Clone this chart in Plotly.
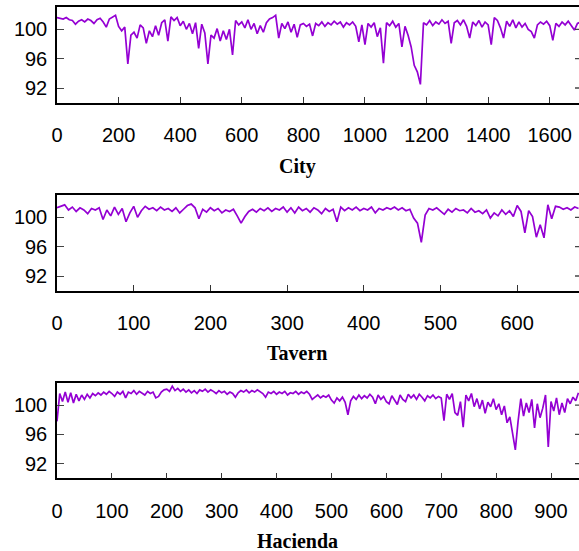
import plotly.graph_objects as go
from plotly.subplots import make_subplots

# ---------------- data ----------------
titles = ["City", "Tavern", "Hacienda"]
y_ticks = [92, 96, 100]

city_step = 10
city_values = [
    101.6, 101.5, 101.4, 101.6, 101.3, 101.2, 100.7, 101.1, 101.3, 101.0,
    101.4, 101.2, 100.8, 101.3, 101.5, 101.0, 100.3, 101.4, 101.7, 101.9,
    100.4, 99.8, 100.3, 95.3, 99.2, 99.6, 98.8, 100.6, 100.2, 98.1,
    99.8, 99.0, 100.5, 99.2, 100.9, 101.3, 98.4, 101.7, 101.2, 101.6,
    100.5, 101.1, 100.0, 100.8, 99.4, 100.9, 97.4, 100.7, 99.5, 95.3,
    99.2, 98.8, 100.1, 98.4, 99.8, 98.6, 100.0, 96.5, 101.2, 100.6,
    101.0, 100.2, 101.3, 100.0, 100.8, 99.4, 100.5, 99.6, 100.9, 101.4,
    101.6, 101.9, 98.8, 100.8, 100.1, 101.0, 99.6, 100.7, 98.9, 100.6,
    100.8, 100.4, 100.7, 99.1, 100.8, 100.5, 101.0, 100.4, 100.9, 100.6,
    101.1, 100.7, 101.0, 100.3, 100.9, 100.6, 101.0, 100.4, 98.3, 100.6,
    97.9, 100.8, 100.3, 100.9, 99.0, 100.2, 95.4, 100.9, 100.5, 101.1,
    100.3, 100.8, 97.6, 100.4, 99.2, 97.6, 95.1, 94.2, 92.5, 100.9,
    100.6, 101.2, 100.5, 101.0, 100.7, 101.3, 100.8, 101.1, 98.1, 100.9,
    101.2, 100.6, 101.3, 100.4, 98.8, 101.0, 100.5, 101.2, 100.3, 101.0,
    100.6, 97.9, 101.6, 101.2, 100.2, 98.8, 101.1, 100.4, 101.3, 100.2,
    101.0, 100.3, 100.8, 100.0, 99.7, 98.8, 100.6, 101.0, 100.7, 101.1,
    100.5, 98.5, 100.8, 100.4, 101.0, 100.6, 101.1, 100.5, 99.9, 100.8,
    101.0,
]

tavern_step = 5
tavern_values = [
    101.3, 101.5, 101.7, 101.0, 101.4, 100.8, 101.3, 101.0, 100.5, 101.2,
    101.0, 101.3, 99.7, 101.0, 100.2, 101.4, 100.4, 101.2, 99.4, 100.6,
    101.5, 100.0, 100.9, 101.5, 101.1, 101.3, 100.9, 101.4, 101.0, 101.2,
    100.8, 101.3, 100.6, 101.1, 101.6, 101.8, 101.3, 99.8, 101.1, 100.7,
    101.3, 100.9, 101.2, 100.6, 101.0, 100.8, 101.1, 100.2, 99.2, 100.1,
    100.8, 101.1, 100.7, 101.2, 100.9, 101.3, 100.8, 101.2, 101.0, 101.4,
    100.7, 101.3, 100.6, 101.4, 100.9, 101.2, 100.7, 101.3, 101.0, 100.5,
    101.2, 100.8, 101.1, 99.4, 101.4, 100.9, 101.3, 101.0, 101.4, 100.9,
    101.2, 101.0, 101.4, 100.6, 101.2, 101.0, 101.3, 101.1, 101.4, 101.0,
    101.3, 100.9, 101.1, 99.9, 99.2, 96.6, 100.3, 101.2, 101.0, 101.3,
    100.8, 100.4, 101.1, 100.7, 101.2, 100.9, 101.0, 100.6, 101.2, 100.7,
    100.9, 100.5, 101.0, 99.9, 100.6, 100.2, 101.0, 100.4, 100.9, 100.1,
    101.6, 100.8, 97.9, 100.9, 100.1, 97.3, 99.0, 97.2, 101.7, 99.8,
    101.5, 101.4, 101.1, 101.3, 101.0, 101.4, 101.2,
]

hacienda_step = 5
hacienda_values = [
    97.8, 101.6, 100.5, 101.8, 100.4, 101.7, 100.3, 101.5, 100.6, 101.4,
    100.8, 101.5, 101.0, 101.6, 101.3, 101.7, 101.4, 101.8, 101.5, 101.9,
    101.6, 101.2, 101.8, 101.5, 101.9, 101.0, 101.8, 101.6, 102.0, 101.5,
    101.9, 101.7, 101.4, 101.9, 101.6, 101.8, 101.0, 101.2, 101.8, 102.1,
    102.2, 101.9, 102.6, 102.0, 102.3, 101.9, 102.2, 101.8, 102.1, 101.7,
    102.0, 101.6, 102.1, 101.9, 102.2, 101.8, 102.1, 101.9, 101.6, 102.0,
    101.7, 101.9, 101.5, 101.8, 101.6, 101.1, 101.7, 102.0, 101.8, 102.1,
    101.7, 102.0, 101.8, 102.1, 101.9, 101.6, 101.1, 101.8, 101.6, 101.9,
    101.5, 101.8, 101.6, 101.9, 101.4, 101.7, 101.6, 101.9, 101.5, 101.8,
    101.6, 101.9, 101.5, 100.8, 101.1, 101.4, 101.0, 101.3, 101.1, 101.4,
    100.7, 100.3, 101.0, 100.6, 101.1, 100.4, 98.7, 100.6, 101.2, 100.8,
    101.4, 100.9, 101.3, 101.0, 101.5, 101.1, 100.2, 101.4, 100.8, 101.2,
    100.5, 100.2, 101.3, 100.7, 100.1, 101.4, 100.8, 100.5, 101.5, 101.0,
    101.4, 100.8, 101.5, 101.1, 100.6, 101.3, 101.0, 101.4, 100.9, 101.2,
    101.0, 97.9, 101.5, 100.8, 101.6, 99.0, 98.6, 100.5, 97.0, 101.4,
    100.6, 101.6, 99.8, 100.9, 99.5, 100.7, 98.9, 100.4, 99.8, 100.9,
    99.4, 100.2, 98.7, 99.9, 97.6, 98.4, 96.3, 93.9, 97.8, 100.9,
    98.5, 100.3, 99.0, 100.8, 96.9, 100.2, 98.3, 99.6, 101.4, 94.3,
    100.5, 99.2, 101.0, 98.7, 100.3, 99.0, 100.9, 100.2, 101.1, 100.6,
    101.7,
]

x_ranges = [[0, 1695], [0, 680.6], [0, 951]]
x_dticks = [200, 100, 100]

series = [
    (city_values, city_step),
    (tavern_values, tavern_step),
    (hacienda_values, hacienda_step),
]

# ---------------- layout geometry ----------------
W, H = 579, 551
ML = 57
plot_px = [(7.3, 102.7), (195.3, 290.7), (383.3, 478.3)]   # top, bottom in pixels
title_px = [166, 352.5, 540.5]
title_x_px = 297

LINE_COLOR = "#9400D3"

fig = make_subplots(rows=3, cols=1)

for k, (vals, step) in enumerate(series):
    xs = [i * step for i in range(len(vals))]
    fig.add_trace(
        go.Scatter(x=xs, y=vals, mode="lines",
                   line=dict(color=LINE_COLOR, width=1.7),
                   showlegend=False, hoverinfo="skip"),
        row=k + 1, col=1,
    )

layout_updates = {}
for k in range(3):
    top, bot = plot_px[k]
    sfx = "" if k == 0 else str(k + 1)
    layout_updates["xaxis" + sfx] = dict(
        domain=[0, 1],
        range=x_ranges[k], dtick=x_dticks[k], tick0=0,
        showgrid=False, zeroline=False,
        showline=True, linecolor="black", linewidth=1.5, mirror=True,
        ticks="inside", ticklen=6, tickwidth=1.3, tickcolor="#333",
        ticklabelstandoff=14,
        tickfont=dict(family="Liberation Sans, Arial", size=20, color="black"),
    )
    layout_updates["yaxis" + sfx] = dict(
        domain=[1 - bot / H, 1 - top / H],
        range=[90, 103], tickvals=y_ticks,
        showgrid=False, zeroline=False,
        showline=True, linecolor="black", linewidth=1.5, mirror=False,
        ticks="inside", ticklen=7, tickwidth=1.3, tickcolor="#444",
        ticklabelstandoff=4,
        tickfont=dict(family="Liberation Sans, Arial", size=20, color="black"),
    )

fig.update_layout(**layout_updates)

annotations = []
shapes = []
for k in range(3):
    annotations.append(dict(
        text="<b>" + titles[k] + "</b>", xref="paper", yref="paper",
        x=(title_x_px - ML) / (W - ML), y=1 - title_px[k] / H,
        xanchor="center", yanchor="middle", showarrow=False,
        font=dict(family="Liberation Serif, Times New Roman", size=20, color="black"),
    ))
    xr = "x domain" if k == 0 else "x%d domain" % (k + 1)
    yr = "y" if k == 0 else "y%d" % (k + 1)
    for t in y_ticks:
        shapes.append(dict(type="line", xref=xr, yref=yr,
                           x0=1 - 4 / (W - ML), x1=1, y0=t, y1=t,
                           line=dict(color="#444", width=1.3)))

fig.update_layout(
    width=W, height=H,
    margin=dict(l=ML, r=0, t=0, b=0),
    paper_bgcolor="white", plot_bgcolor="white",
    annotations=annotations, shapes=shapes,
    showlegend=False,
)

fig.write_html("out.html", config={"displayModeBar": False},
               post_script="document.body.style.margin='0';")
